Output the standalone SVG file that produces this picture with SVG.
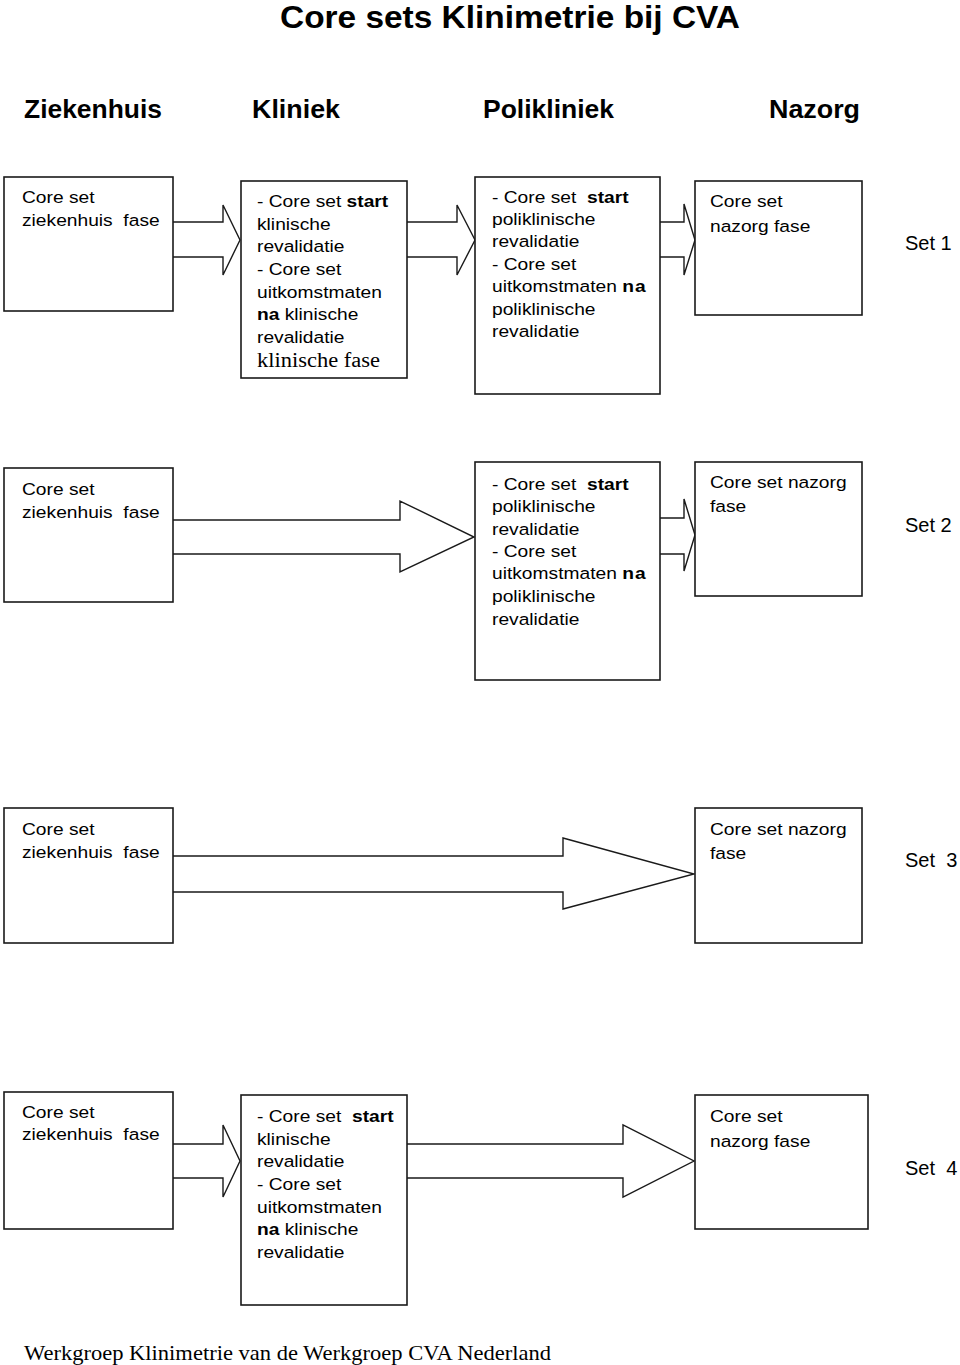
<svg xmlns="http://www.w3.org/2000/svg" width="960" height="1365" viewBox="0 0 960 1365">
<style>
.box{fill:#fff;stroke:#1a1a1a;stroke-width:1.6}
.arr{fill:#fff;stroke:#1a1a1a;stroke-width:1.4;stroke-linejoin:miter}
text{font-family:"Liberation Sans",Arial,sans-serif;fill:#000}
.t{font-size:17px}
.b{font-weight:bold}
.serif{font-family:"Liberation Serif","Times New Roman",serif}
.hd{font-size:25px;font-weight:bold}
.set{font-size:20px}
</style>
<rect width="960" height="1365" fill="#fff"/>
<text x="280" y="28" font-size="31" font-weight="bold" textLength="460" lengthAdjust="spacingAndGlyphs">Core sets Klinimetrie bij CVA</text>
<g id="headers">
<text class="hd" x="24" y="118" textLength="138" lengthAdjust="spacingAndGlyphs">Ziekenhuis</text>
<text class="hd" x="252" y="118" textLength="88" lengthAdjust="spacingAndGlyphs">Kliniek</text>
<text class="hd" x="483" y="118" textLength="131" lengthAdjust="spacingAndGlyphs">Polikliniek</text>
<text class="hd" x="769" y="118" textLength="91" lengthAdjust="spacingAndGlyphs">Nazorg</text>
</g>
<g id="connectors">
<path class="arr" d="M173,222 H223 V205 L240,240 L223,275 V257 H173"/>
<path class="arr" d="M407,222 H457 V205 L475,240 L457,275 V257 H407"/>
<path class="arr" d="M660,222 H684 V204 L695,240 L684,275 V257 H660"/>
<path class="arr" d="M173,520 H400 V501 L474,537 L400,572 V554 H173"/>
<path class="arr" d="M660,518 H684 V499 L695,535 L684,571 V554 H660"/>
<path class="arr" d="M173,856 H563 V838 L694,874 L563,909 V892 H173"/>
<path class="arr" d="M173,1144 H223 V1125 L240,1161 L223,1197 V1178 H173"/>
<path class="arr" d="M407,1144 H623 V1125 L694,1161 L623,1197 V1178 H407"/>
</g>
<!-- Set 1 -->
<g id="s1-ziekenhuis">
<rect class="box" x="4" y="177" width="169" height="134"/>
<g transform="translate(22,0) scale(1.13,1)">
<text class="t" x="0" y="203">Core set</text>
<text class="t" x="0" y="226" xml:space="preserve">ziekenhuis  fase</text>
</g>
</g>
<g id="s1-kliniek">
<rect class="box" x="241" y="181" width="166" height="197"/>
<g transform="translate(257,0) scale(1.13,1)">
<text class="t" x="0" y="207">- Core set <tspan class="b">start</tspan></text>
<text class="t" x="0" y="230">klinische</text>
<text class="t" x="0" y="252">revalidatie</text>
<text class="t" x="0" y="275">- Core set</text>
<text class="t" x="0" y="298">uitkomstmaten</text>
<text class="t" x="0" y="320"><tspan class="b">na</tspan> klinische</text>
<text class="t" x="0" y="343">revalidatie</text>
</g>
<text class="serif" x="257" y="367" font-size="20" textLength="123" lengthAdjust="spacingAndGlyphs">klinische fase</text>
</g>
<g id="s1-polikliniek">
<rect class="box" x="475" y="177" width="185" height="217"/>
<g transform="translate(492,0) scale(1.13,1)">
<text class="t" x="0" y="203" xml:space="preserve">- Core set  <tspan class="b">start</tspan></text>
<text class="t" x="0" y="225">poliklinische</text>
<text class="t" x="0" y="247">revalidatie</text>
<text class="t" x="0" y="270">- Core set</text>
<text class="t" x="0" y="292">uitkomstmaten <tspan class="b" letter-spacing="1">na</tspan></text>
<text class="t" x="0" y="315">poliklinische</text>
<text class="t" x="0" y="337">revalidatie</text>
</g>
</g>
<g id="s1-nazorg">
<rect class="box" x="695" y="181" width="167" height="134"/>
<g transform="translate(710,0) scale(1.13,1)">
<text class="t" x="0" y="207">Core set</text>
<text class="t" x="0" y="232">nazorg fase</text>
</g>
</g>
<text class="set" x="905" y="250">Set 1</text>
<!-- Set 2 -->
<g id="s2-ziekenhuis">
<rect class="box" x="4" y="468" width="169" height="134"/>
<g transform="translate(22,0) scale(1.13,1)">
<text class="t" x="0" y="495">Core set</text>
<text class="t" x="0" y="518" xml:space="preserve">ziekenhuis  fase</text>
</g>
</g>
<g id="s2-polikliniek">
<rect class="box" x="475" y="462" width="185" height="218"/>
<g transform="translate(492,0) scale(1.13,1)">
<text class="t" x="0" y="490" xml:space="preserve">- Core set  <tspan class="b">start</tspan></text>
<text class="t" x="0" y="512">poliklinische</text>
<text class="t" x="0" y="535">revalidatie</text>
<text class="t" x="0" y="557">- Core set</text>
<text class="t" x="0" y="579">uitkomstmaten <tspan class="b" letter-spacing="1">na</tspan></text>
<text class="t" x="0" y="602">poliklinische</text>
<text class="t" x="0" y="625">revalidatie</text>
</g>
</g>
<g id="s2-nazorg">
<rect class="box" x="695" y="462" width="167" height="134"/>
<g transform="translate(710,0) scale(1.13,1)">
<text class="t" x="0" y="488">Core set nazorg</text>
<text class="t" x="0" y="512">fase</text>
</g>
</g>
<text class="set" x="905" y="532">Set 2</text>
<!-- Set 3 -->
<g id="s3-ziekenhuis">
<rect class="box" x="4" y="808" width="169" height="135"/>
<g transform="translate(22,0) scale(1.13,1)">
<text class="t" x="0" y="835">Core set</text>
<text class="t" x="0" y="858" xml:space="preserve">ziekenhuis  fase</text>
</g>
</g>
<g id="s3-nazorg">
<rect class="box" x="695" y="808" width="167" height="135"/>
<g transform="translate(710,0) scale(1.13,1)">
<text class="t" x="0" y="835">Core set nazorg</text>
<text class="t" x="0" y="859">fase</text>
</g>
</g>
<text class="set" x="905" y="867" xml:space="preserve">Set  3</text>
<!-- Set 4 -->
<g id="s4-ziekenhuis">
<rect class="box" x="4" y="1092" width="169" height="137"/>
<g transform="translate(22,0) scale(1.13,1)">
<text class="t" x="0" y="1118">Core set</text>
<text class="t" x="0" y="1140" xml:space="preserve">ziekenhuis  fase</text>
</g>
</g>
<g id="s4-kliniek">
<rect class="box" x="241" y="1095" width="166" height="210"/>
<g transform="translate(257,0) scale(1.13,1)">
<text class="t" x="0" y="1122" xml:space="preserve">- Core set  <tspan class="b">start</tspan></text>
<text class="t" x="0" y="1145">klinische</text>
<text class="t" x="0" y="1167">revalidatie</text>
<text class="t" x="0" y="1190">- Core set</text>
<text class="t" x="0" y="1213">uitkomstmaten</text>
<text class="t" x="0" y="1235"><tspan class="b">na</tspan> klinische</text>
<text class="t" x="0" y="1258">revalidatie</text>
</g>
</g>
<g id="s4-nazorg">
<rect class="box" x="695" y="1095" width="173" height="134"/>
<g transform="translate(710,0) scale(1.13,1)">
<text class="t" x="0" y="1122">Core set</text>
<text class="t" x="0" y="1147">nazorg fase</text>
</g>
</g>
<text class="set" x="905" y="1175" xml:space="preserve">Set  4</text>
<text class="serif" x="24" y="1360" font-size="21" textLength="527" lengthAdjust="spacingAndGlyphs">Werkgroep Klinimetrie van de Werkgroep CVA Nederland</text>
</svg>
